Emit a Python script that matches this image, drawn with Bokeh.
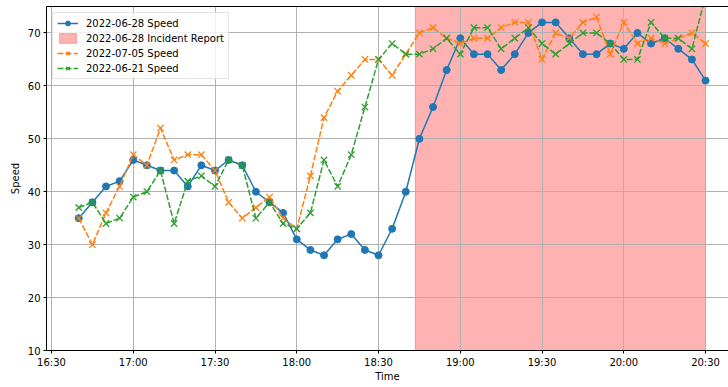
import pandas as pd
from bokeh.plotting import figure
from bokeh.models import (Range1d, LinearAxis, FixedTicker, DatetimeTickFormatter,
                          Legend, LegendItem)
from bokeh.embed import file_html
from bokeh.resources import INLINE

# ---- data -------------------------------------------------------------
day = "2022-06-28"
times = pd.date_range(f"{day} 16:40", f"{day} 20:30", freq="5min")

speed_0628 = [35, 38, 41, 42, 46, 45, 44, 44, 41, 45, 44, 46, 45, 40, 38, 36,
              31, 29, 28, 31, 32, 29, 28, 33, 40, 50, 56, 63, 69, 66, 66, 63,
              66, 70, 72, 72, 69, 66, 66, 68, 67, 70, 68, 69, 67, 65, 61]
speed_0705 = [35, 30, 36, 41, 47, 45, 52, 46, 47, 47, 44, 38, 35, 37, 39, 35,
              33, 43, 54, 59, 62, 65, 65, 62, 66, 70, 71, 69, 68, 69, 69, 71,
              72, 72, 65, 70, 69, 72, 73, 66, 72, 68, 69, 68, 69, 70, 68]
speed_0621 = [37, 38, 34, 35, 39, 40, 44, 34, 42, 43, 41, 46, 45, 35, 38, 34,
              33, 36, 46, 41, 47, 56, 65, 68, 66, 66, 67, 69, 66, 71, 71, 67,
              69, 71, 68, 66, 68, 70, 70, 68, 65, 65, 72, 69, 69, 67, 77]

incident_start = pd.Timestamp(f"{day} 18:43:30")
incident_end = pd.Timestamp(f"{day} 20:30")

x_tick_labels = ["16:30", "17:00", "17:30", "18:00", "18:30",
                 "19:00", "19:30", "20:00", "20:30"]
y_ticks = [10, 20, 30, 40, 50, 60, 70]
y_min, y_max = 10, 75
x_start = pd.Timestamp(f"{day} 16:28:10")
x_end = pd.Timestamp(f"{day} 20:38:25")

BLUE, ORANGE, GREEN = "#1f77b4", "#ff7f0e", "#2ca02c"
FONT = "DejaVu Sans"

# ---- figure -----------------------------------------------------------
p = figure(width=728, height=387, x_axis_type="datetime",
           x_range=Range1d(x_start, x_end), y_range=Range1d(y_min, y_max),
           output_backend="svg", toolbar_location=None,
           min_border_left=46, min_border_right=0,
           min_border_top=6, min_border_bottom=37)
p.outline_line_color = None
p.background_fill_color = "white"
p.border_fill_color = "white"

x_ticks = [pd.Timestamp(f"{day} {t}") for t in x_tick_labels]
p.xaxis.ticker = FixedTicker(ticks=[t.value // 10**6 for t in x_ticks])
p.xaxis.formatter = DatetimeTickFormatter(minutes="%H:%M", hourmin="%H:%M",
                                          hours="%H:%M")
p.yaxis.ticker = FixedTicker(ticks=y_ticks)
p.xaxis.axis_label = "Time"
p.yaxis.axis_label = "Speed"

for ax in (p.xaxis[0], p.yaxis[0]):
    ax.axis_line_color = "black"
    ax.axis_line_width = 1
    ax.major_tick_out = 3
    ax.major_tick_in = 0
    ax.minor_tick_out = 0
    ax.minor_tick_in = 0
    ax.major_tick_line_color = "black"
    ax.major_label_text_font = FONT
    ax.major_label_text_font_size = "10px"
    ax.major_label_text_color = "black"
    ax.axis_label_text_font = FONT
    ax.axis_label_text_font_size = "10px"
    ax.axis_label_text_font_style = "normal"
    ax.axis_label_text_color = "black"
p.xaxis.major_label_standoff = 3
p.xaxis.axis_label_standoff = 0
p.yaxis.major_label_standoff = 3
p.yaxis.axis_label_standoff = 4

# top spine
top = LinearAxis(ticker=FixedTicker(ticks=[]), axis_line_color="black",
                 major_tick_out=0, major_tick_in=0, minor_tick_out=0,
                 minor_tick_in=0, major_label_text_font_size="0px")
p.add_layout(top, "above")

for g in (p.xgrid[0], p.ygrid[0]):
    g.grid_line_color = "#b0b0b0"
    g.grid_line_width = 1

# ---- glyphs -----------------------------------------------------------
span = p.quad(left=[incident_start], right=[incident_end],
              bottom=[y_min], top=[y_max],
              fill_color="red", fill_alpha=0.3,
              line_color="red", line_alpha=0.3, line_width=1, level="image")

l1 = p.line(times, speed_0628, line_color=BLUE, line_width=1.5)
m1 = p.scatter(times, speed_0628, marker="circle", size=7,
               fill_color=BLUE, line_color=BLUE)

l2 = p.line(times, speed_0705, line_color=ORANGE, line_width=1.5,
            line_dash="6 2")
m2 = p.scatter(times, speed_0705, marker="x", size=9,
               line_color=ORANGE, line_width=1.3)

l3 = p.line(times, speed_0621, line_color=GREEN, line_width=1.5,
            line_dash="6 2")
m3 = p.scatter(times, speed_0621, marker="x", size=9,
               line_color=GREEN, line_width=1.3)

legend = Legend(items=[
    LegendItem(label="2022-06-28 Speed", renderers=[l1, m1]),
    LegendItem(label="2022-06-28 Incident Report", renderers=[span]),
    LegendItem(label="2022-07-05 Speed", renderers=[l2, m2]),
    LegendItem(label="2022-06-21 Speed", renderers=[l3, m3]),
], location="top_left")
legend.label_text_font = FONT
legend.label_text_font_size = "10px"
legend.label_text_color = "black"
legend.glyph_width = 21
legend.glyph_height = 12
legend.label_height = 12
legend.spacing = 3
legend.padding = 4
legend.margin = 6
legend.label_standoff = 8
legend.border_line_color = "#cccccc"
legend.border_line_width = 1
legend.background_fill_alpha = 0.8
p.add_layout(legend)

open("out.html", "w").write(file_html(p, INLINE))
